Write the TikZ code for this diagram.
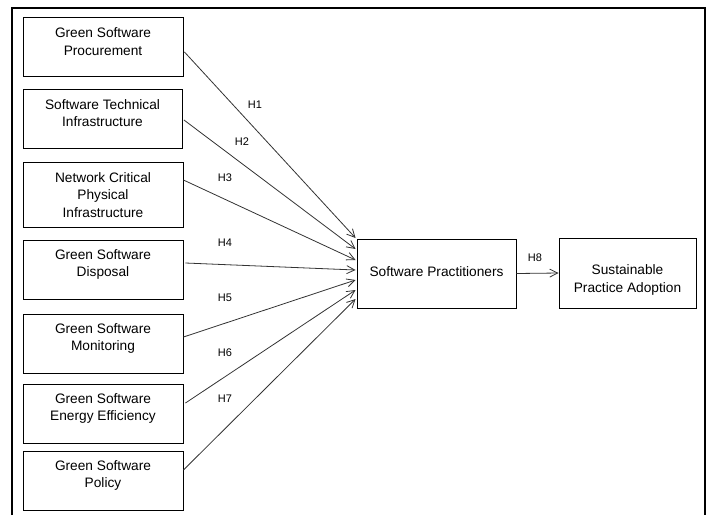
\documentclass[tikz,border=0pt]{standalone}
\usepackage{fontspec}
\setmainfont{Liberation Sans}
\usetikzlibrary{arrows.meta,calc}

\begin{document}
\begin{tikzpicture}[x=1pt,y=-1pt,
  box/.style={draw=black, line width=0.9pt, inner sep=0pt},
  txt/.style={align=center, inner sep=0pt,
    font=\fontsize{13.7}{17.5}\selectfont},
  link/.style={draw=black!80, line width=0.8pt,
    -{Straight Barb[length=8pt,width=8pt]}},
  hlabel/.style={font=\fontsize{11}{13}\selectfont, inner sep=0pt}]
\useasboundingbox (0,0) rectangle (709,515);

% outer frame, open at the bottom
\draw[line width=1.6pt] (12,515) -- (12,8) -- (705,8) -- (705,515);

% construct boxes
\node[box, minimum width=160pt, minimum height=59pt] (b1) at (103,46.5) {};
\node[box, minimum width=159pt, minimum height=59pt] (b2) at (102.5,118.5) {};
\node[box, minimum width=160pt, minimum height=65pt] (b3) at (103,194.5) {};
\node[box, minimum width=160pt, minimum height=59pt] (b4) at (103,269.5) {};
\node[box, minimum width=160pt, minimum height=59pt] (b5) at (103,343.5) {};
\node[box, minimum width=160pt, minimum height=59pt] (b6) at (103,413.5) {};
\node[box, minimum width=160pt, minimum height=59pt] (b7) at (103,480.5) {};
\node[box, minimum width=159pt, minimum height=69pt] (sp) at (436.5,273.5) {};
\node[box, minimum width=137pt, minimum height=70pt] (spa) at (627.5,273) {};

% construct names
\node[txt] (t1) at ($(b1)+(0,-5)$) {Green Software\\Procurement};
\node[txt] (t2) at ($(b2)+(0,-5.5)$) {Software Technical\\Infrastructure};
\node[txt] (t3) at ($(b3)+(0,0.5)$) {Network Critical\\Physical\\Infrastructure};
\node[txt] (t4) at ($(b4)+(0,-5)$) {Green Software\\Disposal};
\node[txt] (t5) at ($(b5)+(0,-5)$) {Green Software\\Monitoring};
\node[txt] (t6) at ($(b6)+(0,-5)$) {Green Software\\Energy Efficiency};
\node[txt] (t7) at ($(b7)+(0,-5)$) {Green Software\\Policy};
\node[txt] (tsp) at ($(sp)+(0,-1.5)$) {Software Practitioners};
\node[txt] (tspa) at ($(spa)+(0,7)$) {Sustainable\\Practice Adoption};

% hypothesised paths
\draw[link] ($(b1.east)+(1,5.5)$)   -- ($(sp.west)+(-1,-35.5)$);
\draw[link] ($(b2.east)+(1.5,1.5)$) -- ($(sp.west)+(-1,-24.5)$);
\draw[link] ($(b3.east)+(0,-14.5)$) -- ($(sp.west)+(-1,-13.5)$);
\draw[link] ($(b4.east)+(2,-6.5)$)  -- ($(sp.west)+(-1,-3.5)$);
\draw[link] ($(b5.east)+(0,-6.5)$)  -- ($(sp.west)+(-1,6.5)$);
\draw[link] ($(b6.east)+(2,-10.5)$) -- ($(sp.west)+(-1,16.5)$);
\draw[link] ($(b7.east)+(0,-10.5)$) -- ($(sp.west)+(-1,25.5)$);
\draw[link] (sp.east) -- (spa.west);

% path labels
\node[hlabel] (h1) at (255,105) {H1};
\node[hlabel] (h2) at (242,142) {H2};
\node[hlabel] (h3) at (225,178) {H3};
\node[hlabel] (h4) at (225,243) {H4};
\node[hlabel] (h5) at (225,298) {H5};
\node[hlabel] (h6) at (225,353) {H6};
\node[hlabel] (h7) at (225,399) {H7};
\node[hlabel] (h8) at (535,258) {H8};
\end{tikzpicture}
\end{document}
